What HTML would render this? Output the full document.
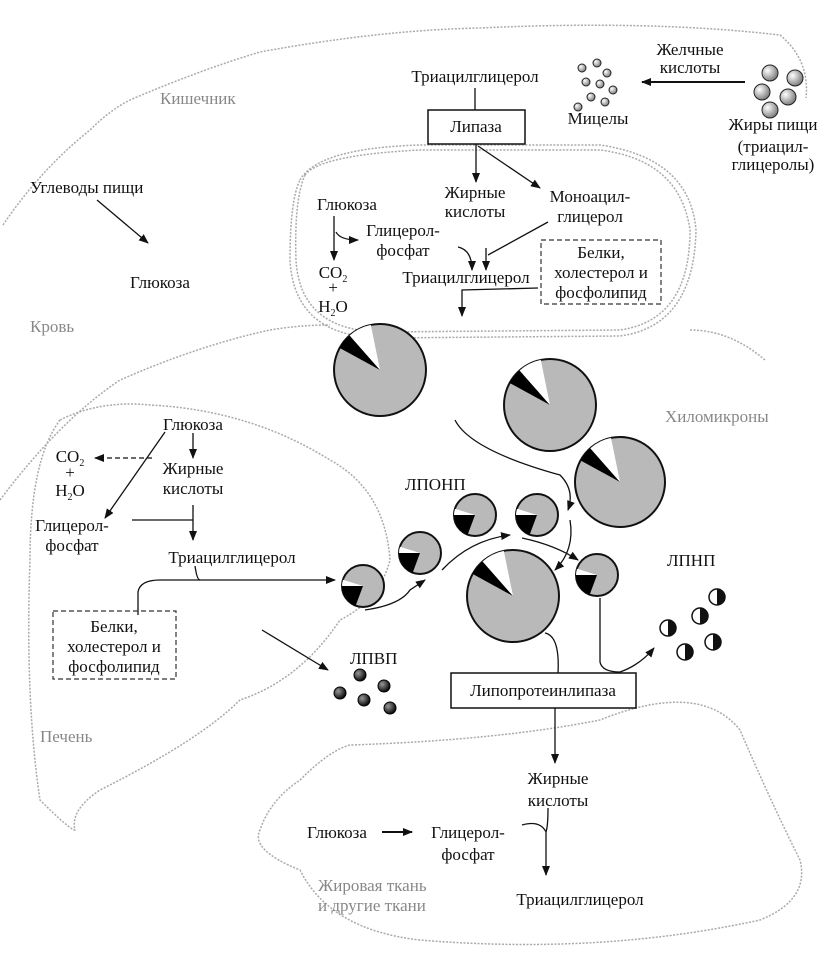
<!DOCTYPE html>
<html><head><meta charset="utf-8"><style>
html,body{margin:0;padding:0;background:#fff}
svg{display:block}
text{font-family:"Liberation Serif",serif;font-size:17px;fill:#111}
.g{fill:#888}
.c{text-anchor:middle}
</style></head><body>
<svg width="826" height="954" viewBox="0 0 826 954" xmlns="http://www.w3.org/2000/svg">
<defs>
<marker id="a" markerWidth="10" markerHeight="8" refX="9" refY="4" orient="auto" markerUnits="userSpaceOnUse"><path d="M0,0 L10,4 L0,8 Z" fill="#111"/></marker>
<g id="big"><circle r="1" fill="#b9b9b9" stroke="#111" stroke-width="2" vector-effect="non-scaling-stroke"/><path d="M0,0 L-0.88,-0.48 A1,1 0 0 1 -0.66,-0.75 Z" fill="#000"/><path d="M0,0 L-0.66,-0.75 A1,1 0 0 1 -0.2,-0.98 Z" fill="#fff"/></g>
<g id="sm"><circle r="1" fill="#b9b9b9" stroke="#111" stroke-width="2" vector-effect="non-scaling-stroke"/><path d="M0,0 L-1,0 A1,1 0 0 0 -0.35,0.94 Z" fill="#000"/><path d="M0,0 L-0.95,-0.3 A1,1 0 0 0 -1,0 Z" fill="#fff"/></g>
<radialGradient id="hb" cx="0.35" cy="0.35" r="0.7"><stop offset="0" stop-color="#999"/><stop offset="1" stop-color="#000"/></radialGradient>
<radialGradient id="mb" cx="0.35" cy="0.35" r="0.7"><stop offset="0" stop-color="#fff"/><stop offset="1" stop-color="#777"/></radialGradient>
<g id="half"><circle r="8" fill="#fff" stroke="#111" stroke-width="1.5"/><path d="M0,-8 A8,8 0 0 1 0,8 Z" fill="#111"/></g>
</defs>
<g fill="none" stroke="#aaa" stroke-width="1.5" stroke-dasharray="2,1.5">
<path d="M3,225 Q40,170 90,130 Q110,110 130,100 Q200,70 260,52 Q380,30 480,28 Q650,20 780,35 Q810,60 806,98"/>
<path d="M0,500 Q60,420 120,380 Q200,345 270,330 Q300,325 330,325"/>
<path d="M690,330 Q730,330 765,360"/>
<path d="M305,175 Q320,155 420,150 L600,150 Q680,160 690,230 Q690,320 620,330 L380,332 Q300,330 296,260 Q294,200 305,175 Z"/>
<path d="M300,180 Q318,148 420,145 L600,145 Q690,158 696,230 Q694,326 620,336 L380,338 Q294,336 290,260 Q290,200 300,180 Z"/>
<path d="M60,420 Q100,400 150,405 Q250,410 330,460 Q385,490 390,560 Q380,600 340,620 Q300,680 240,700 Q200,740 100,790 Q70,810 75,830 Q70,830 40,800 Q25,700 30,560 Q30,460 60,420 Z"/>
<path d="M300,780 Q330,750 350,745 Q500,740 600,720 Q700,680 740,730 Q770,800 800,860 Q810,900 760,920 Q600,955 420,940 Q330,930 300,870 Q250,850 260,830 Q270,800 300,780 Z"/>
</g>
<text class="g" x="160" y="104" font-size="14">Кишечник</text>
<text class="g" x="30" y="332" font-size="14">Кровь</text>
<text class="g" x="665" y="422" font-size="14">Хиломикроны</text>
<text class="g" x="40" y="742" font-size="14">Печень</text>
<text class="g" x="318" y="891" font-size="15">Жировая ткань</text>
<text class="g" x="318" y="911" font-size="15">и другие ткани</text>

<text class="c" x="475" y="82">Триацилглицерол</text>
<line x1="475" y1="88" x2="475" y2="110" stroke="#111" stroke-width="1.3"/>
<rect x="428" y="110" width="97" height="34" fill="#fff" stroke="#111" stroke-width="1.5"/>
<text class="c" x="476" y="132">Липаза</text>
<text class="c" x="598" y="124">Мицелы</text>
<text class="c" x="690" y="55" font-size="15">Желчные</text>
<text class="c" x="690" y="73" font-size="15">кислоты</text>
<line x1="745" y1="82" x2="642" y2="82" stroke="#111" stroke-width="2" marker-end="url(#a)"/>
<text class="c" x="773" y="130">Жиры пищи</text>
<text class="c" x="773" y="152" font-size="15">(триацил-</text>
<text class="c" x="773" y="170" font-size="15">глицеролы)</text>
<g fill="url(#mb)" stroke="#222" stroke-width="1">
<circle cx="582" cy="68" r="4"/><circle cx="597" cy="63" r="4"/><circle cx="607" cy="73" r="4"/><circle cx="586" cy="82" r="4"/><circle cx="600" cy="84" r="4"/><circle cx="613" cy="90" r="4"/><circle cx="591" cy="97" r="4"/><circle cx="605" cy="102" r="4"/><circle cx="578" cy="107" r="4"/>
<circle cx="770" cy="73" r="8"/><circle cx="795" cy="78" r="8"/><circle cx="762" cy="92" r="8"/><circle cx="788" cy="97" r="8"/><circle cx="770" cy="110" r="8"/>
</g>

<text x="30" y="193">Углеводы пищи</text>
<line x1="97" y1="200" x2="148" y2="243" stroke="#111" stroke-width="1.3" marker-end="url(#a)"/>
<text class="c" x="160" y="288">Глюкоза</text>

<g stroke="#111" stroke-width="1.3" fill="none">
<line x1="476" y1="144" x2="476" y2="182" marker-end="url(#a)"/>
<line x1="478" y1="146" x2="540" y2="188" marker-end="url(#a)"/>
<line x1="334" y1="216" x2="334" y2="260" marker-end="url(#a)"/>
<path d="M336,232 Q340,240 358,240" marker-end="url(#a)"/>
<path d="M458,247 Q472,250 472,270" marker-end="url(#a)"/>
<line x1="486" y1="248" x2="486" y2="270" marker-end="url(#a)"/>
<line x1="548" y1="222" x2="488" y2="255"/>
<path d="M538,288 L462,290 L462,316" marker-end="url(#a)"/>
<line x1="193" y1="433" x2="193" y2="458" marker-end="url(#a)"/>
<line x1="165" y1="432" x2="105" y2="518" marker-end="url(#a)"/>
<line x1="152" y1="458" x2="95" y2="458" stroke-dasharray="5,3" marker-end="url(#a)"/>
<line x1="193" y1="505" x2="193" y2="540" marker-end="url(#a)"/>
<line x1="132" y1="520" x2="193" y2="520"/>
<path d="M195,566 Q197,580 200,580"/>
<path d="M138,615 L138,592 Q140,580 160,580 L335,580" marker-end="url(#a)"/>
<line x1="262" y1="630" x2="328" y2="670" marker-end="url(#a)"/>
<path d="M455,420 Q470,450 560,475 Q575,490 568,510" marker-end="url(#a)"/>
<path d="M570,520 Q575,550 555,570" marker-end="url(#a)"/>
<path d="M365,610 Q400,605 410,590 L425,580" marker-end="url(#a)"/>
<path d="M442,570 Q470,540 510,535" marker-end="url(#a)"/>
<path d="M522,538 Q555,545 578,560" marker-end="url(#a)"/>
<path d="M545,633 Q560,636 558,673"/>
<path d="M600,598 L600,662 Q602,672 620,672 Q640,665 654,648" marker-end="url(#a)"/>
<line x1="555" y1="708" x2="555" y2="763" marker-end="url(#a)"/>
<line x1="382" y1="832" x2="412" y2="832" stroke-width="2" marker-end="url(#a)"/>
<path d="M548,808 Q548,826 546,832 Q540,820 522,825 M546,832 L546,875" marker-end="url(#a)"/>
</g>
<text class="c" x="347" y="210">Глюкоза</text>
<text class="c" x="403" y="236">Глицерол-</text>
<text class="c" x="403" y="256">фосфат</text>
<text class="c" x="333" y="278">CO<tspan font-size="10" dy="4">2</tspan></text>
<text class="c" x="333" y="293">+</text>
<text class="c" x="333" y="312">H<tspan font-size="10" dy="4">2</tspan><tspan dy="-4">O</tspan></text>
<text class="c" x="475" y="198">Жирные</text>
<text class="c" x="475" y="217">кислоты</text>
<text class="c" x="590" y="202">Моноацил-</text>
<text class="c" x="590" y="222">глицерол</text>
<text class="c" x="466" y="283">Триацилглицерол</text>
<rect x="541" y="240" width="120" height="64" fill="none" stroke="#333" stroke-width="1.2" stroke-dasharray="5,3"/>
<text class="c" x="601" y="258">Белки,</text>
<text class="c" x="601" y="278">холестерол и</text>
<text class="c" x="601" y="298">фосфолипид</text>

<text class="c" x="193" y="430">Глюкоза</text>
<text class="c" x="70" y="462">CO<tspan font-size="10" dy="4">2</tspan></text>
<text class="c" x="70" y="478">+</text>
<text class="c" x="70" y="496">H<tspan font-size="10" dy="4">2</tspan><tspan dy="-4">O</tspan></text>
<text class="c" x="193" y="474">Жирные</text>
<text class="c" x="193" y="494">кислоты</text>
<text class="c" x="72" y="531">Глицерол-</text>
<text class="c" x="72" y="551">фосфат</text>
<text class="c" x="232" y="563">Триацилглицерол</text>
<rect x="53" y="611" width="123" height="68" fill="none" stroke="#333" stroke-width="1.2" stroke-dasharray="5,3"/>
<text class="c" x="114" y="632">Белки,</text>
<text class="c" x="114" y="652">холестерол и</text>
<text class="c" x="114" y="672">фосфолипид</text>

<use href="#big" transform="translate(380,370) scale(46)"/>
<use href="#big" transform="translate(550,405) scale(46)"/>
<use href="#big" transform="translate(620,482) scale(45)"/>
<use href="#big" transform="translate(513,596) scale(46)"/>
<use href="#sm" transform="translate(363,586) scale(21)"/>
<use href="#sm" transform="translate(420,553) scale(21)"/>
<use href="#sm" transform="translate(475,515) scale(21)"/>
<use href="#sm" transform="translate(537,515) scale(21)"/>
<use href="#sm" transform="translate(597,575) scale(21)"/>
<text x="405" y="490" font-size="18">ЛПОНП</text>
<text x="667" y="566" font-size="18">ЛПНП</text>
<text x="350" y="664" font-size="18">ЛПВП</text>
<g fill="url(#hb)" stroke="#000"><circle cx="360" cy="675" r="6"/><circle cx="384" cy="686" r="6"/><circle cx="340" cy="693" r="6"/><circle cx="364" cy="700" r="6"/><circle cx="390" cy="708" r="6"/></g>
<use href="#half" x="668" y="628"/><use href="#half" x="700" y="616"/><use href="#half" x="717" y="597"/><use href="#half" x="685" y="652"/><use href="#half" x="713" y="642"/>
<rect x="451" y="673" width="185" height="35" fill="#fff" stroke="#111" stroke-width="1.5"/>
<text class="c" x="543" y="696">Липопротеинлипаза</text>
<text class="c" x="558" y="784">Жирные</text>
<text class="c" x="558" y="806">кислоты</text>
<text class="c" x="337" y="838">Глюкоза</text>
<text class="c" x="468" y="838">Глицерол-</text>
<text class="c" x="468" y="860">фосфат</text>
<text class="c" x="580" y="905">Триацилглицерол</text>
</svg>
</body></html>
